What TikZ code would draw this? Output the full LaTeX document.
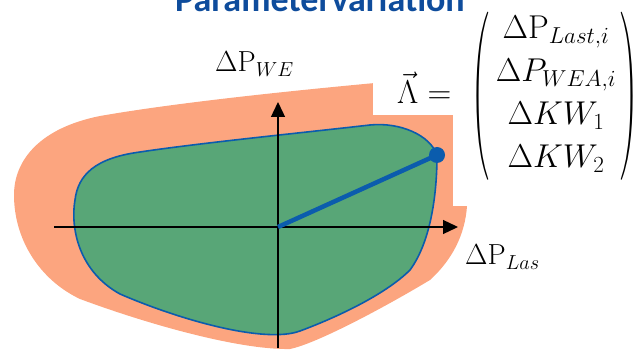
\RequirePackage{fix-cm}
\documentclass[tikz,border=0pt]{standalone}
\usepackage{amsmath}
\usepackage{graphicx}
\usepackage{fontspec}
\newfontfamily\titlefont{Carlito}
\usetikzlibrary{arrows.meta}
\definecolor{salmon}{HTML}{FCA57F}
\definecolor{areagreen}{HTML}{58A677}
\definecolor{lineblue}{HTML}{0B5CAD}
\definecolor{titleblue}{HTML}{0E4C9C}
\begin{document}
\begin{tikzpicture}[x=1pt,y=-1pt,
  axisline/.style={line width=1.3pt,-{Triangle[length=15pt,width=14pt]}},
  lbl/.style={inner sep=0pt,anchor=base west,font=\fontsize{29}{35}\selectfont},
  paren/.style={inner sep=0pt},
  marker/.style={circle,fill=lineblue,inner sep=0pt,minimum size=16pt}]
\useasboundingbox (0,0) rectangle (639,352);
% outer (orange) region
\fill[salmon] (470,80) -- (375,83)
  .. controls (300,90) and (180,102) .. (100,116)
  .. controls (40,128) and (14,160) .. (14,195)
  .. controls (14,240) and (40,280) .. (80,299)
  .. controls (150,325) and (240,350) .. (290,349)
  .. controls (315,344) and (380,310) .. (430,280)
  .. controls (452,260) and (465,235) .. (467,206)
  -- cycle;
% white backing of the formula
\fill[white] (373,-5) rectangle (645,115);
\fill[white] (453,115) rectangle (645,206);
% inner (green) region
\filldraw[fill=areagreen,draw=lineblue,line width=1.6pt] (437,155)
  .. controls (437,190) and (432,240) .. (410,270)
  .. controls (385,295) and (335,318) .. (300,331)
  .. controls (265,344) and (180,320) .. (120,294)
  .. controls (80,272) and (70,230) .. (75,200)
  .. controls (78,175) and (95,158) .. (140,152)
  .. controls (200,143) and (300,133) .. (370,125)
  .. controls (400,122) and (430,135) .. cycle;
% axes
\coordinate (O) at (278,227);
\coordinate (xs) at (54,227);
\coordinate (xe) at (458,227);
\coordinate (ys) at (278,348);
\coordinate (ye) at (278,102);
\draw[axisline] (xs) -- (xe);
\draw[axisline] (ys) -- (ye);
% parameter vector
\node[marker] (pt) at (437,155) {};
\draw[lineblue,line width=4.5pt] (O) -- (pt.center);
% labels
\node[lbl] (ylab) at (215,72) {$\Delta\mathrm{P}_{WE}$};
\node[lbl] (xlab) at (465,265) {$\Delta\mathrm{P}_{Las}$};
\node[inner sep=0pt,anchor=base west,font=\fontsize{33}{40}\selectfont] (vec) at (397,104)
 {$\vec{\Lambda}=$};
\node[inner sep=0pt,font=\fontsize{33}{43}\selectfont] (mat) at (556,94)
 {$\begin{matrix}\Delta\mathrm{P}_{Last,i}\\ \Delta P_{WEA,i}\\ \Delta KW_1\\ \Delta KW_2\end{matrix}$};
\node[paren] (lpar) at (480,96) {\resizebox*{18pt}{168pt}{$\Bigg($}};
\node[paren] (rpar) at (629,96) {\resizebox*{18pt}{168pt}{$\Bigg)$}};
% title (cut by the top edge)
\node[anchor=base,inner sep=0pt,text=titleblue,font=\titlefont\bfseries\fontsize{36}{40}\selectfont] (title) at (320,12) {Parametervariation};
\end{tikzpicture}
\end{document}
